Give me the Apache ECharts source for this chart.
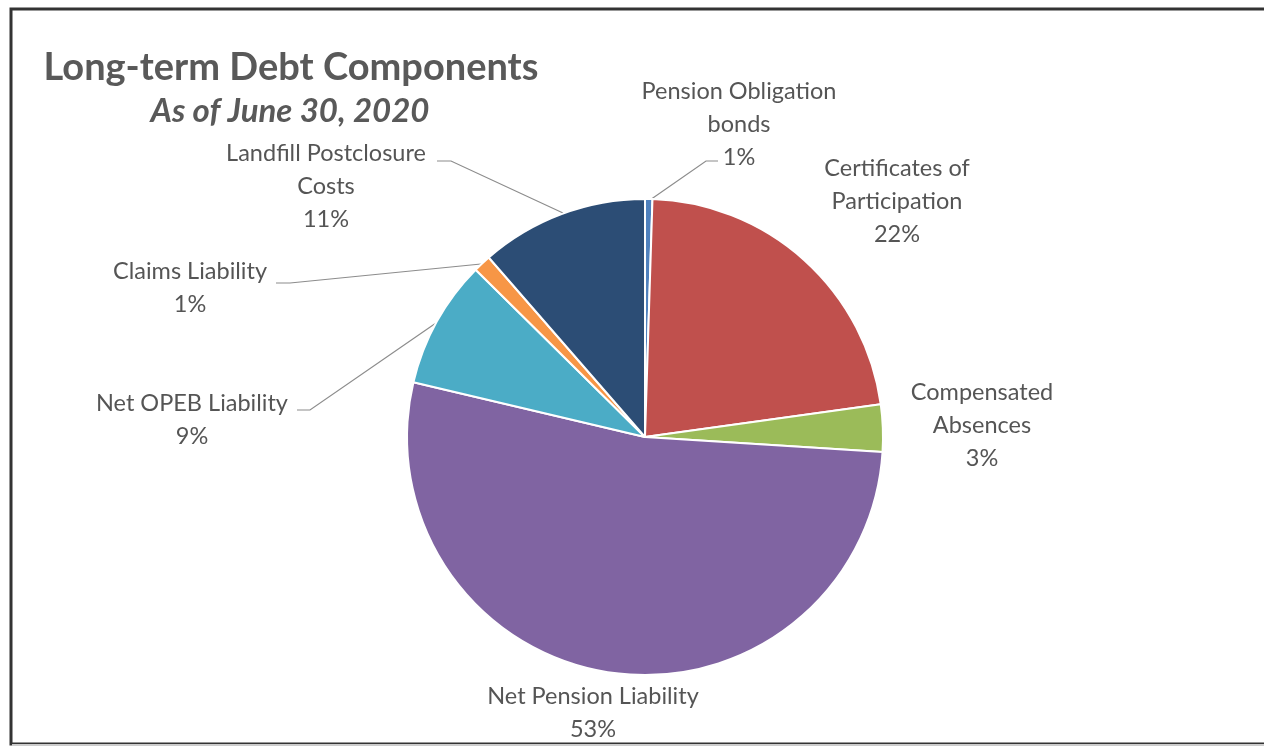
<!DOCTYPE html>
<html>
<head>
<meta charset="utf-8">
<script src="https://cdn.jsdelivr.net/npm/echarts@6/dist/echarts.min.js"></script>
<style>
html,body{margin:0;padding:0;background:#fff;}
#chart{width:1264px;height:747px;}
</style>
</head>
<body>
<div id="chart"></div>
<script>
const categories = ['Pension Obligation\nbonds', 'Certificates of\nParticipation', 'Compensated\nAbsences', 'Net Pension Liability', 'Net OPEB Liability', 'Claims Liability', 'Landfill Postclosure\nCosts'];
const values = [0.5, 22.3, 3.2, 52.7, 8.7, 1.2, 11.4];
const pctLabels = ['1%', '22%', '3%', '53%', '9%', '1%', '11%'];
const colors = ['#4F81BD', '#C0504D', '#9BBB59', '#8064A2', '#4BACC6', '#F79646', '#2C4D75'];

// label placement (center of label block) and leader lines
const labelPos = [[739, 124], [897, 201], [982, 425], [593, 713], [192, 420], [190, 288], [326, 186]];
const leaderLines = [
  [[650, 200], [706, 161], [718, 161]],
  null, null, null,
  [[436, 323], [310, 410], [297, 410]],
  [[481, 264], [290, 283], [276, 283]],
  [[563, 213], [451, 161], [437, 161]]
];

const chart = echarts.init(document.getElementById('chart'), null, {renderer: 'canvas'});
const FONT = 'Lato, "Open Sans", sans-serif';
chart.setOption({
  backgroundColor: '#fff',
  animation: false,
  graphic: [
    {type: 'rect', shape: {x: 11, y: 9, width: 1270, height: 735}, style: {fill: 'none', stroke: '#333', lineWidth: 3}},
    {type: 'line', shape: {x1: 12, y1: 745, x2: 1264, y2: 745}, style: {stroke: '#ccc', lineWidth: 2}},
    {type: 'text', style: {x: 291, y: 68, text: 'Long-term Debt Components', font: 'bold 38px ' + FONT, fill: '#595959', textAlign: 'center', textVerticalAlign: 'middle'}},
    {type: 'text', style: {x: 290, y: 111, text: 'As of June 30, 2020', font: 'italic bold 33px ' + FONT, fill: '#595959', textAlign: 'center', textVerticalAlign: 'middle'}}
  ],
  series: [{
    type: 'pie',
    center: [645, 437],
    radius: [0, 238],
    startAngle: 90,
    clockwise: true,
    avoidLabelOverlap: false,
    itemStyle: {borderColor: '#fff', borderWidth: 2},
    label: {
      show: true,
      position: 'outside',
      formatter: p => p.name + '\n' + pctLabels[p.dataIndex],
      fontFamily: FONT,
      fontSize: 23.5,
      color: '#555555',
      lineHeight: 33,
      align: 'center'
    },
    labelLine: {show: true, lineStyle: {color: '#8c8c8c', width: 1.2}, length: 10, length2: 10},
    labelLayout: function (params) {
      const i = params.dataIndex;
      const out = {x: labelPos[i][0], y: labelPos[i][1], align: 'center', verticalAlign: 'middle'};
      if (leaderLines[i]) out.labelLinePoints = leaderLines[i];
      return out;
    },
    data: categories.map((c, i) => ({
      name: c,
      value: values[i],
      itemStyle: {color: colors[i]},
      labelLine: {show: !!leaderLines[i]}
    }))
  }]
});
</script>
</body>
</html>
